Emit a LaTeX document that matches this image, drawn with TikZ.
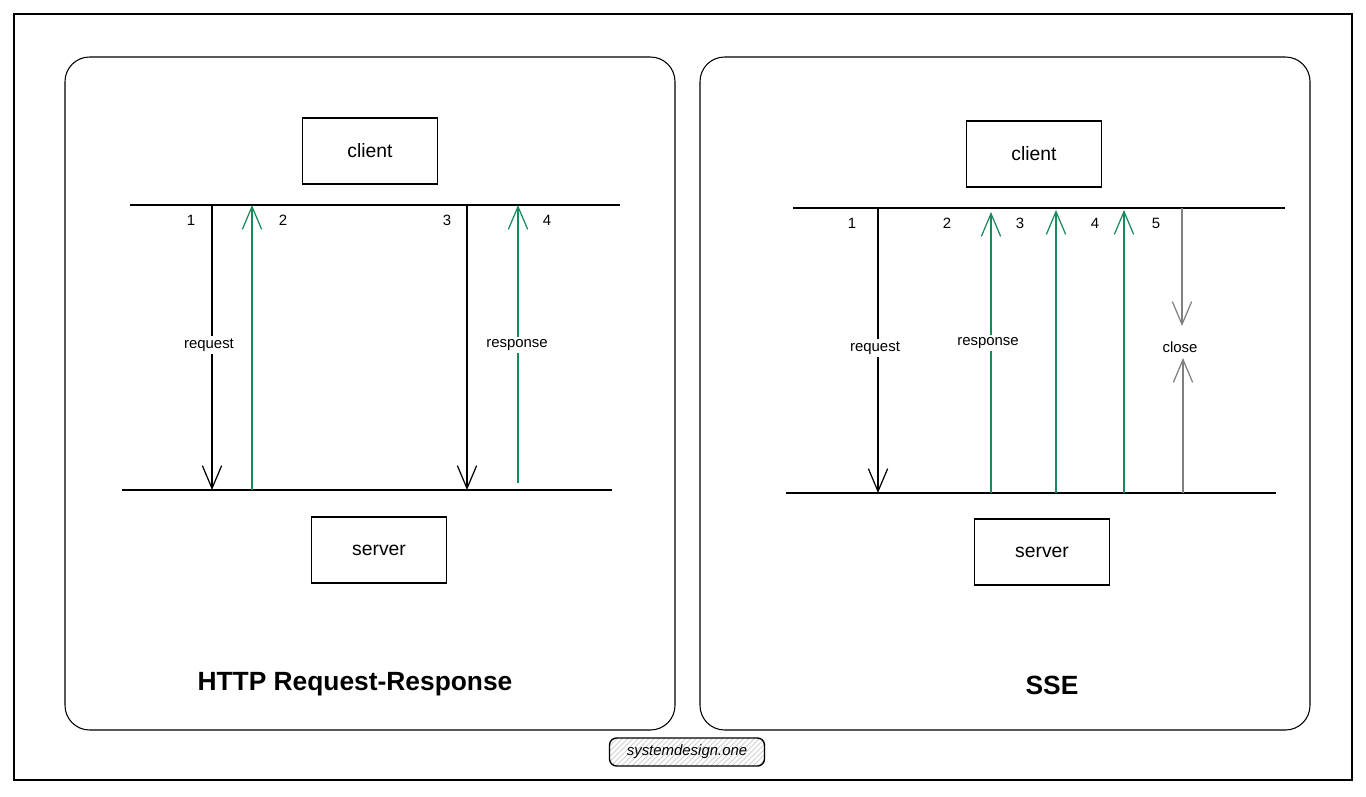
\documentclass[tikz,border=0pt]{standalone}
\usepackage{fontspec}
\setmainfont{Liberation Sans}
\usetikzlibrary{arrows.meta,patterns}
\definecolor{msggreen}{RGB}{24,138,92}
\definecolor{closegray}{RGB}{128,128,128}
\begin{document}
\begin{tikzpicture}[x=0.02cm,y=-0.02cm,
  panel/.style={draw, line width=0.6pt, rounded corners=14pt},
  hostbox/.style={draw, line width=0.9pt, minimum width=2.7cm, minimum height=1.32cm, font=\fontsize{11}{13}\selectfont},
  wire/.style={line width=0.9pt},
  req/.style={line width=0.7pt, -{Straight Barb[length=13pt,width=11pt]}},
  resp/.style={req, msggreen},
  shut/.style={req, closegray},
  lbl/.style={fill=white, inner sep=1.5pt, font=\fontsize{8.5}{10}\selectfont},
  num/.style={font=\fontsize{8.5}{10}\selectfont},
  title/.style={font=\fontsize{15}{18}\selectfont\bfseries}]
\fill[white] (0,0) rectangle (1366,797);
\useasboundingbox (0,0) rectangle (1366,797);
\draw[line width=0.8pt] (14,14) rectangle (1352,780);

% left panel: request-response
\draw[panel] (65,57) rectangle (675,730);
\node[hostbox] (lclient) at (370,151) {client};
\node[hostbox] (lserver) at (379,550) {server};
\coordinate (ltopa) at (130,205);
\coordinate (ltopb) at (620,205);
\coordinate (lbota) at (122,490);
\coordinate (lbotb) at (612,490);
\draw[wire] (ltopa) -- (ltopb);
\draw[wire] (lbota) -- (lbotb);
\coordinate (lc1) at (212,205);
\coordinate (ls1) at (212,490);
\coordinate (lc2) at (252,205);
\coordinate (ls2) at (252,490);
\coordinate (lc3) at (467,205);
\coordinate (ls3) at (467,490);
\coordinate (lc4) at (518,205);
\coordinate (ls4) at (518,483);
\draw[req] (lc1) -- (ls1);
\draw[resp] (ls2) -- (lc2);
\draw[req] (lc3) -- (ls3);
\draw[resp] (ls4) -- (lc4);
\node[lbl] (lreq) at (209,345) {request};
\node[lbl] (lresp) at (517,345) {response};
\node[num] (ln1) at (191,220) {1};
\node[num] (ln2) at (283,220) {2};
\node[num] (ln3) at (447,220) {3};
\node[num] (ln4) at (547,220) {4};
\node[title] (ltitle) at (355,684) {HTTP Request-Response};

% right panel: server-sent events
\draw[panel] (700,57) rectangle (1310,730);
\node[hostbox] (rclient) at (1034,154) {client};
\node[hostbox] (rserver) at (1042,552) {server};
\coordinate (rtopa) at (793,208);
\coordinate (rtopb) at (1285,208);
\coordinate (rbota) at (786,493);
\coordinate (rbotb) at (1276,493);
\draw[wire] (rtopa) -- (rtopb);
\draw[wire] (rbota) -- (rbotb);
\coordinate (rc1) at (878,208);
\coordinate (rs1) at (878,493);
\coordinate (rc2) at (991,212);
\coordinate (rs2) at (991,493);
\coordinate (rc3) at (1056,210);
\coordinate (rs3) at (1056,493);
\coordinate (rc4) at (1124,210);
\coordinate (rs4) at (1124,493);
\coordinate (rc5) at (1182,208);
\coordinate (rm5) at (1182,326);
\coordinate (rn5) at (1183,358);
\coordinate (rs5) at (1183,493);
\draw[req] (rc1) -- (rs1);
\draw[resp] (rs2) -- (rc2);
\draw[resp] (rs3) -- (rc3);
\draw[resp] (rs4) -- (rc4);
\draw[shut] (rc5) -- (rm5);
\draw[shut] (rs5) -- (rn5);
\node[lbl] (rreq) at (875,348) {request};
\node[lbl] (rresp) at (988,343) {response};
\node[lbl] (rclose) at (1180,347) {close};
\node[num] (rn1) at (852,223) {1};
\node[num] (rn2) at (947,223) {2};
\node[num] (rn3) at (1020,223) {3};
\node[num] (rn4) at (1095,223) {4};
\node[num] (rnum5) at (1156,223) {5};
\node[title] (rtitle) at (1052,685) {SSE};

% footer tag
\node[draw, line width=0.8pt, rounded corners=4pt, pattern=north east lines, pattern color=gray!40,
  minimum width=3.1cm, minimum height=0.56cm, font=\fontsize{8.5}{10}\selectfont\itshape] (tag) at (687,752) {systemdesign.one};
\end{tikzpicture}
\end{document}
